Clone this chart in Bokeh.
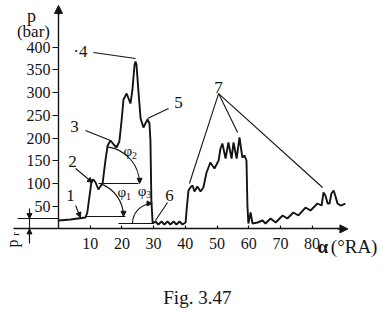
from bokeh.plotting import figure
from bokeh.models import Range1d, LinearAxis, FixedTicker, Arrow, NormalHead
from bokeh.core.properties import value
from bokeh.embed import file_html
from bokeh.resources import INLINE

# ---- data: crank angle (deg) and pressure (bar) ----
alpha = [0.0, 3.8, 8.5, 9.1, 9.8, 10.4, 11.0, 11.7, 12.6, 13.2, 13.9, 14.8, 15.5, 16.4, 17.4,
         18.3, 19.2, 19.9, 20.5, 21.5, 22.1, 22.7, 23.3, 24.0, 24.3, 24.6, 25.2, 25.9, 26.8,
         27.4, 28.1, 28.7, 29.0, 29.3, 29.7,
         30.6, 31.5, 32.5, 33.4, 34.4, 35.3, 36.3, 37.2, 38.2, 39.1, 40.1, 40.4, 41.0, 41.6,
         42.3, 42.9, 43.8, 44.8, 45.7, 46.7, 47.9, 49.2, 50.5, 51.1, 51.7, 52.7, 53.6, 54.6,
         55.2, 56.2, 57.1, 58.0, 58.7, 59.3, 59.6, 59.9, 60.6, 61.2, 62.8, 64.4, 65.3, 66.9,
         68.5, 70.7, 72.2, 74.1, 75.7, 77.9, 79.5, 81.7, 83.0, 83.6, 84.2, 84.9, 85.5, 86.1,
         86.8, 87.4, 88.0, 89.0, 90.5]
pressure = [18.5, 20.7, 25.1, 36.1, 73.5, 104.3, 108.7, 102.1, 86.7, 93.3, 99.9, 150.5, 183.6,
            194.6, 185.8, 179.2, 192.4, 238.6, 284.8, 298.0, 287.0, 276.0, 304.7, 361.9, 368.5,
            361.9, 304.7, 242.9, 223.2, 232.0, 240.8, 232.0, 194.6, 62.5, 11.9,
            16.3, 9.7, 16.3, 9.7, 16.3, 9.7, 16.3, 9.7, 16.3, 9.7, 14.1, 40.5, 84.5, 91.1,
            95.5, 82.3, 93.3, 82.3, 91.1, 124.1, 146.2, 132.9, 150.5, 177.0, 188.0, 154.9, 190.2,
            154.9, 190.2, 154.9, 201.2, 157.1, 161.5, 150.5, 51.5, 11.9, 36.1, 11.9, 14.1, 18.5,
            11.9, 22.9, 14.1, 29.5, 22.9, 36.1, 29.5, 47.1, 40.5, 55.9, 51.5, 80.1, 73.5, 55.9,
            55.9, 77.9, 84.5, 71.3, 55.9, 51.5, 55.9]

y_ticks = [50, 100, 150, 200, 250, 300, 350, 400]
x_ticks = [10, 20, 30, 40, 50, 60, 70, 80]
p_r = 22.9  # residual pressure level

# point labels
lab_text = ["1", "2", "3", "·4", "5", "6", "7"]
lab_x = [3.8, 4.4, 5.05, 6.9, 37.85, 35.0, 50.47]
lab_y = [73.5, 148.4, 225.4, 390.5, 278.2, 73.5, 311.2]

# leader lines (x0, y0, x1, y1)
lead_x0 = [8.5, 11.0, 34.7, 50.5, 50.5, 50.5]
lead_y0 = [216.6, 388.3, 265.0, 297.9, 297.9, 297.9]
lead_x1 = [16.4, 24.3, 28.1, 41.3, 56.5, 83.3]
lead_y1 = [194.6, 375.1, 243.0, 100.0, 212.2, 91.1]

FONT = value("Liberation Serif")
INK = "#141414"

p = figure(width=386, height=312, output_backend="svg", toolbar_location=None,
           x_range=Range1d(-58 / 3.17, (386 - 58) / 3.17),
           y_range=Range1d(-(312 - 228.4) / 0.4543, 228.4 / 0.4543),
           x_axis_location=None, y_axis_location=None, title=None,
           min_border=0, min_border_left=0, min_border_right=0,
           min_border_top=0, min_border_bottom=0)
p.outline_line_color = None
p.xgrid.visible = False
p.ygrid.visible = False
p.background_fill_color = "white"

yax = LinearAxis(fixed_location=0, bounds=(0, 480), ticker=FixedTicker(ticks=y_ticks))
xax = LinearAxis(fixed_location=0, bounds=(-14.2, 89.5), ticker=FixedTicker(ticks=x_ticks))
for ax in (yax, xax):
    ax.axis_line_width = 1.4
    ax.axis_line_color = INK
    ax.major_tick_line_color = INK
    ax.major_tick_line_width = 1.2
    ax.minor_tick_line_color = None
    ax.major_label_text_font = "Liberation Serif"
    ax.major_label_text_font_size = "16px"
    ax.major_label_text_color = INK
yax.major_tick_out = 6
yax.major_tick_in = 0
yax.major_label_standoff = 2
xax.major_tick_out = 0
xax.major_tick_in = 3
xax.major_label_standoff = 9
p.add_layout(yax, "left")
p.add_layout(xax, "below")

# axis arrow heads
p.add_layout(Arrow(x_start=0, y_start=470, x_end=0, y_end=492, line_color=INK, line_width=1.4,
                   end=NormalHead(size=8, fill_color=INK, line_color=INK)))
p.add_layout(Arrow(x_start=88, y_start=0, x_end=91.3, y_end=0, line_color=INK, line_width=1.4,
                   end=NormalHead(size=8, fill_color=INK, line_color=INK)))

# the pressure curve
p.line(alpha, pressure, line_width=1.9, color=INK)

# reference lines
p.segment(x0=[-12.9, 8.5, 12.6, 18.9], y0=[p_r, 27.3, 99.9, 11.9],
          x1=[0.0, 21.1, 25.2, 30.0], y1=[p_r, 27.3, 99.9, 11.9], line_color=INK, line_width=1.2)

# p_r dimension arrows
p.segment(x0=[-9.15], y0=[45], x1=[-9.15], y1=[-32], line_color=INK, line_width=1.1)
p.add_layout(Arrow(x_start=-9.15, y_start=40, x_end=-9.15, y_end=p_r, line_color=INK, line_width=1.1,
                   end=NormalHead(size=5, fill_color=INK, line_color=INK)))
p.add_layout(Arrow(x_start=-9.15, y_start=-25, x_end=-9.15, y_end=0, line_color=INK, line_width=1.1,
                   end=NormalHead(size=5, fill_color=INK, line_color=INK)))

# angle arcs
p.arc(x=[9.46], y=[27.3], radius=35, radius_units="screen", start_angle=0, end_angle=70,
      start_angle_units="deg", end_angle_units="deg", line_color=INK, line_width=1.1)
p.arc(x=[13.88], y=[99.9], radius=37, radius_units="screen", start_angle=0, end_angle=82,
      start_angle_units="deg", end_angle_units="deg", line_color=INK, line_width=1.1)
p.arc(x=[29.65], y=[11.9], radius=20, radius_units="screen", start_angle=90, end_angle=180,
      start_angle_units="deg", end_angle_units="deg", line_color=INK, line_width=1.1)
for xs, ys, xe, ye in [(20.5, 40.0, 20.5, 27.8), (25.6, 112.0, 25.6, 100.4), (27.8, 56.0, 29.5, 56.0)]:
    p.add_layout(Arrow(x_start=xs, y_start=ys, x_end=xe, y_end=ye, line_color=INK, line_width=1.1,
                       end=NormalHead(size=5, fill_color=INK, line_color=INK)))

# leader lines
p.segment(x0=lead_x0, y0=lead_y0, x1=lead_x1, y1=lead_y1, line_color=INK, line_width=1.1)
p.segment(x0=[34.4], y0=[58.1], x1=[30.6], y1=[18.5], line_color=INK, line_width=1.1)
p.add_layout(Arrow(x_start=5.4, y_start=51.5, x_end=6.9, y_end=25.1, line_color=INK, line_width=1.1,
                   end=NormalHead(size=5, fill_color=INK, line_color=INK)))
p.add_layout(Arrow(x_start=5.4, y_start=133.0, x_end=10.7, y_end=102.1, line_color=INK, line_width=1.1,
                   end=NormalHead(size=5, fill_color=INK, line_color=INK)))

# point labels
p.text(x=lab_x, y=lab_y, text=lab_text, text_font=FONT, text_font_size=value("17px"),
       text_color=INK, text_align="center", text_baseline="middle")

# phi labels with subscripts
p.text(x=[20.0, 21.9, 26.4], y=[81.0, 171.0, 84.0], text=["φ", "φ", "φ"], text_font=FONT,
       text_font_size=value("15px"), text_color=INK, text_align="center", text_baseline="middle")
p.text(x=[20.0, 21.9, 26.4], y=[81.0, 171.0, 84.0], text=["1", "2", "3"], text_font=FONT,
       text_font_size=value("10px"), text_color=INK, text_align="left", text_baseline="middle",
       x_offset=4, y_offset=4)

# axis titles
p.text(x=[-8.5], y=[469.7], text=["p"], text_font=FONT, text_font_size=value("18px"),
       text_color=INK, text_align="center", text_baseline="middle")
p.text(x=[-7.9], y=[434.5], text=["(bar)"], text_font=FONT, text_font_size=value("17px"),
       text_color=INK, text_align="center", text_baseline="middle")
p.text(x=[83.4], y=[-38.7], text=["α"], text_font=FONT, text_font_size=value("19px"),
       text_font_style="bold", text_color=INK, text_align="center", text_baseline="middle")
p.text(x=[85.9], y=[-38.7], text=["(°RA)"], text_font=FONT, text_font_size=value("19px"),
       text_color=INK, text_align="left", text_baseline="middle")
p.text(x=[-14.5], y=[-32.1], text=["p"], text_font=FONT, text_font_size=value("16px"), angle=1.5708,
       text_color=INK, text_align="center", text_baseline="middle")
p.text(x=[-13.6], y=[-11.0], text=["r"], text_font=FONT, text_font_size=value("11px"), angle=1.5708,
       text_color=INK, text_align="center", text_baseline="middle")

# caption
p.text(x=[43.8], y=[-151.0], text=["Fig. 3.47"], text_font=FONT, text_font_size=value("19px"),
       text_color=INK, text_align="center", text_baseline="middle")

open("out.html", "w").write(file_html(p, INLINE))
